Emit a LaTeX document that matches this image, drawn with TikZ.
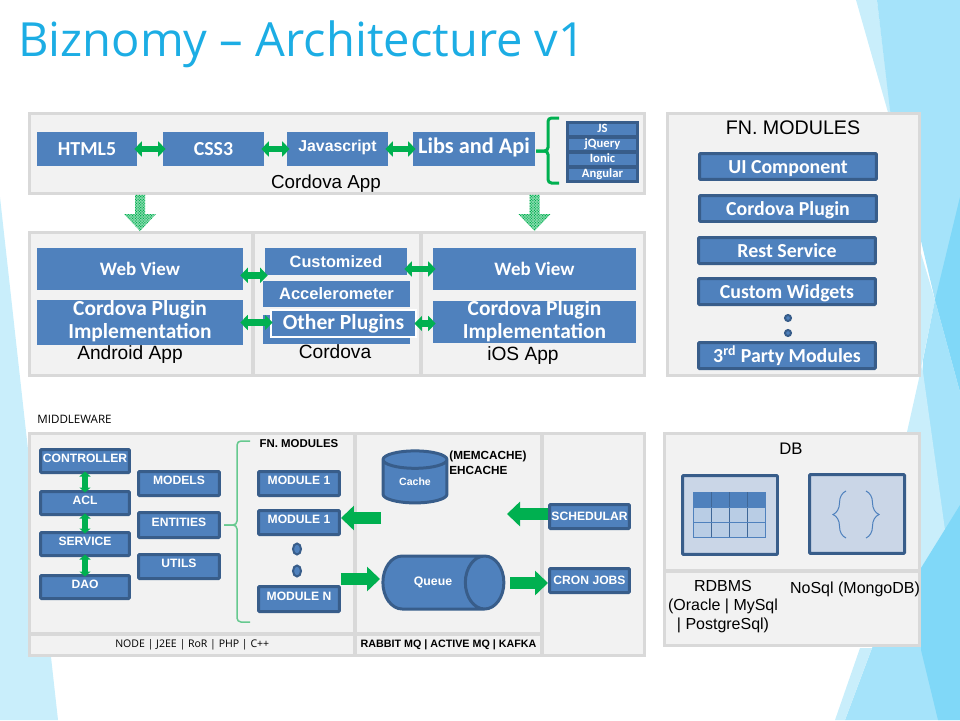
\documentclass[tikz,border=0pt]{standalone}
\usepackage{fontspec}
\usepackage{tikz}
\usetikzlibrary{arrows.meta,calc,patterns.meta,shapes.geometric,decorations.pathreplacing}
\setmainfont{Liberation Sans}
\newfontfamily\calibri{Carlito}
\newfontfamily\openfont{Open Sans}
\newcommand{\fs}[1]{\fontsize{#1}{#1}\selectfont}
\definecolor{bgLight}{HTML}{C9EEFB}
\definecolor{bgMid}{HTML}{A5E3FA}
\definecolor{bgDark}{HTML}{80D8F8}
\definecolor{titleBlue}{HTML}{1CADE4}
\definecolor{cellFill}{HTML}{F2F2F2}
\definecolor{cellLine}{HTML}{D9D9D9}
\definecolor{boxFill}{HTML}{4F81BD}
\definecolor{boxLine}{HTML}{385D8A}
\definecolor{paleBox}{HTML}{CAD6E7}
\definecolor{tableCell}{HTML}{B9CDE5}
\definecolor{arrowGreen}{HTML}{00B050}
\definecolor{paleGreen}{HTML}{66C98F}
\tikzset{
  size/.style 2 args={minimum width=#1*0.2mm, minimum height=#2*0.2mm, inner sep=0pt},
  cell/.style={draw=cellLine, fill=cellFill, line width=0.6mm},
  flatbox/.style={fill=boxFill, text=white, font=\calibri\bfseries\fs{11.3}},
  flatarial/.style={fill=boxFill, text=white, font=\bfseries\fs{9.3}},
  rowbox/.style={flatbox, font=\calibri\bfseries\fs{7.2}, text height=1.5mm, text depth=0.3mm},
  sidebox/.style={draw=boxLine, fill=boxFill, line width=0.6mm, rounded corners=0.2mm, text=white, font=\calibri\bfseries\fs{11.3}, text height=3.2mm, text depth=0.4mm},
  midbox/.style={draw=boxLine, fill=boxFill, line width=0.6mm, rounded corners=0.2mm, text=white, font=\bfseries\fs{6.9}, text depth=1.2mm},
  tank/.style={cylinder, draw=boxLine, fill=boxFill, line width=0.6mm, text=white, inner sep=0pt, font=\bfseries\fs{6}},
  bluedot/.style={ellipse, draw=boxLine, fill=boxFill, line width=0.4mm, inner sep=0pt},
  paleframe/.style={draw=boxLine, fill=paleBox, line width=0.6mm, rounded corners=0.2mm},
  caption/.style={font=\fs{9.1}, align=center, inner sep=0pt},
  dbl/.style={{Triangle[length=1.5mm,width=3mm]}-{Triangle[length=1.5mm,width=3mm]}, draw=arrowGreen, line width=1.3mm, shorten <=-0.6mm, shorten >=-0.6mm},
  dblsmall/.style={{Triangle[length=1mm,width=2.2mm]}-{Triangle[length=1mm,width=2.2mm]}, draw=arrowGreen, line width=1.1mm, shorten <=-0.5mm, shorten >=-0.5mm},
  fatarrow/.style={-{Triangle[length=2.6mm,width=4.8mm]}, draw=arrowGreen, line width=2.4mm},
  downarrow/.style={preaction={fill=arrowGreen!45!white}, pattern={Dots[distance=1.1pt,radius=0.42pt,angle=45]}, pattern color=arrowGreen,
    to path={($(\tikztostart)+(-5,0)$) -- ($(\tikztostart)+(5,0)$) -- ($(\tikztotarget)+(5,-17)$) -- ($(\tikztotarget)+(16,-17)$) -- (\tikztotarget) -- ($(\tikztotarget)+(-16,-17)$) -- ($(\tikztotarget)+(-5,-17)$) -- cycle}},
  greenbrace/.style={draw=arrowGreen, line width=0.6mm, rounded corners=0.7mm},
  thinbrace/.style={draw=paleGreen, line width=0.3mm, rounded corners=0.8mm},
  curly/.style={draw=boxFill, line width=0.2mm, decorate, decoration={brace, amplitude=2.6mm}},
}
\begin{document}
\begin{tikzpicture}[x=0.02cm, y=-0.02cm]
    \useasboundingbox (0,0) rectangle (960,720);

    % background facets
    \fill[bgLight] (0,197) -- (58,720) -- (0,720) -- cycle;
    \fill[bgLight] (856,0) -- (877,0) -- (893,130) -- cycle;
    \fill[bgMid] (877,0) -- (960,0) -- (960,392) -- (935,300) -- (890,110) -- cycle;
    \fill[bgLight] (920,250) -- (935,300) -- (921,368) -- (910,300) -- cycle;
    \fill[bgDark] (960,197) -- (935,300) -- (960,392) -- cycle;
    \fill[bgMid] (923,360) -- (935,300) -- (960,392) -- (960,720) -- (845,720) -- (872,648) -- (921,565) -- cycle;
    \fill[bgLight] (922,365) -- (945,530) -- (921,570) -- (900,560) -- (907,432) -- cycle;
    \fill[bgLight] (860,648) -- (872,648) -- (845,720) -- (835,720) -- cycle;
    \fill[bgDark] (921,568) -- (960,505) -- (960,720) -- (938,720) -- (921,650) -- cycle;

    \node (title) [anchor=west, text=titleBlue, inner sep=0pt, font=\openfont\fs{26.8}] at (18,44) {Biznomy – Architecture v1};

    % cordova app row
    \node (appCell) [cell, size={615}{80}] at (337,153.5) {};
    \node (html) [flatbox, size={100}{34}] at (87,149) {HTML5};
    \node (css) [flatbox, size={101}{34}] at (213.5,149) {CSS3};
    \node (js) [flatarial, size={101}{34}, text depth=1.2mm, font=\bfseries\fs{9}] at (337.5,149) {Javascript};
    \node (libs) [flatbox, size={122}{34}, text depth=1.2mm, font=\calibri\bfseries\fs{12.7}] at (474,149) {Libs and Api};
    \node (libFrame) [fill=boxLine, size={73}{62}] at (602.5,152) {};
    \node (rowJs) [rowbox, size={67}{11}] at (602.5,129.5) {JS};
    \node (rowJq) [rowbox, size={67}{11}] at (602.5,144.5) {jQuery};
    \node (rowIonic) [rowbox, size={67}{11}] at (602.5,159.5) {Ionic};
    \node (rowAngular) [rowbox, size={67}{11}] at (602.5,174.5) {Angular};
    \draw[greenbrace] (559,118) -- (548,118) -- (548,151) -- (536,151);
    \draw[greenbrace] (559,183) -- (548,183) -- (548,151) -- (536,151);
    \node (appText) [caption, font=\fs{10.7}] at (326,184) {Cordova App};

    \draw[dbl] (html.east) -- (html.east -| css.west);
    \draw[dbl] (css.east) -- (css.east -| js.west);
    \draw[dbl] (js.east) -- (js.east -| libs.west);

    % android, cordova, ios
    \node (androidCell) [cell, size={223.5}{143}] at (141.25,304) {};
    \node (cordovaCell) [cell, size={168}{143}] at (337,304) {};
    \node (iosCell) [cell, size={223.5}{143}] at (532.75,304) {};
    \node (webL) [flatbox, size={206}{42}, font=\calibri\bfseries\fs{10.8}] at (140,269) {Web View};
    \node (pluginL) [flatbox, size={206}{43}, align=center, font=\calibri\bfseries\fontsize{12.2}{13}\selectfont, text depth=1.3mm] at (140,322.5) {Cordova Plugin\\Implementation};
    \node (custom) [flatarial, size={142}{27}] at (336,261.5) {Customized};
    \node (accel) [flatarial, size={147}{26}, font=\bfseries\fs{9.4}] at (336.5,294) {Accelerometer};
    \node (accBase) [fill=boxFill, size={147}{29}] at (336.5,329.5) {};
    \node (other) [flatbox, size={146}{27}, draw=white, line width=0.4mm, font=\calibri\bfseries\fs{12.3}] at (343.5,323.5) {Other Plugins};
    \node (webR) [flatbox, size={203}{42}, font=\calibri\bfseries\fs{10.8}] at (534.5,269) {Web View};
    \node (pluginR) [flatbox, size={203}{42}, align=center, font=\calibri\bfseries\fontsize{12.2}{13}\selectfont, text depth=0.9mm] at (534.5,322) {Cordova Plugin\\Implementation};
    \node (androidText) [caption, font=\fs{10.9}] at (130,355) {Android App};
    \node (cordovaText) [caption, font=\fs{10.9}] at (335,352) {Cordova};
    \node (iosText) [caption, font=\fs{10.9}] at (523,356) {iOS App};

    \draw[dbl] (webL.east |- custom.south) -- (custom.south west);
    \draw[dbl] (custom.east |- webR.west) -- (webR.west);
    \draw[dbl] (pluginL.east) -- (pluginL.east -| other.west);
    \draw[dbl] (other.east) -- (other.east -| pluginR.west);

    \path[downarrow] (appCell.south -| webL) to (androidCell.north -| webL);
    \path[downarrow] (appCell.south -| webR) to (iosCell.north -| webR);

    % fn. modules
    \node (fnCell) [cell, size={252}{262}] at (793.5,244.5) {};
    \node (fnText) [caption, font=\fs{11.2}] at (793,128) {FN. MODULES};
    \node (uiBox) [sidebox, size={177}{26}] at (788,166.5) {UI Component};
    \node (pluginBox) [sidebox, size={177}{26}] at (788,208.5) {Cordova Plugin};
    \node (restBox) [sidebox, size={177}{26}] at (787,250.5) {Rest Service};
    \node (widgetBox) [sidebox, size={177}{26}] at (787,291.5) {Custom Widgets};
    \node (fnDotA) [bluedot, size={6}{6}] at (788,318) {};
    \node (fnDotB) [bluedot, size={6}{6}] at (788,333) {};
    \node (thirdBox) [sidebox, size={177}{26}] at (787,355.5) {3\textsuperscript{rd} Party Modules};

    % middleware
    \node (mwText) [anchor=west, inner sep=0pt, font=\openfont\fs{6.6}] at (37,419) {MIDDLEWARE};
    \node (srvCell) [cell, size={325.5}{200.5}] at (192.25,533.75) {};
    \node (mqCell) [cell, size={187}{200.5}] at (448.5,533.75) {};
    \node (jobCell) [cell, size={102.5}{222}] at (593.25,544.5) {};
    \node (srvFoot) [cell, size={325.5}{21.5}, font=\openfont\fs{6}] at (192.25,644.75) {NODE | J2EE | RoR | PHP | C++};
    \node (mqFoot) [cell, size={187}{21.5}, font=\bfseries\fs{6.1}] at (448.5,644.75) {RABBIT MQ | ACTIVE MQ | KAFKA};

    \node (controller) [midbox, size={89}{23}] at (85,461) {CONTROLLER};
    \node (acl) [midbox, size={89}{23}] at (85,503) {ACL};
    \node (service) [midbox, size={89}{23}] at (85,544) {SERVICE};
    \node (dao) [midbox, size={89}{23}] at (85,587) {DAO};
    \node (models) [midbox, size={81}{24}] at (179,483.5) {MODELS};
    \node (entities) [midbox, size={81}{25}] at (179,525) {ENTITIES};
    \node (utils) [midbox, size={81}{24}] at (179,566.5) {UTILS};
    \node (moduleA) [midbox, size={81}{24}] at (299,483.5) {MODULE 1};
    \node (moduleB) [midbox, size={81}{24}] at (299,522.5) {MODULE 1};
    \node (midDotA) [bluedot, size={8}{11}] at (297,549) {};
    \node (midDotB) [bluedot, size={8}{11}] at (297,571) {};
    \node (moduleN) [midbox, size={81}{25}] at (299,599) {MODULE N};
    \node (mwFnText) [inner sep=0pt, font=\bfseries\fs{6.5}] at (299,444) {FN. MODULES};

    \draw[dblsmall] (controller.south) -- (acl.north);
    \draw[dblsmall] (acl.south) -- (service.north);
    \draw[dblsmall] (service.south) -- (dao.north);
    \draw[thinbrace] (250,441) -- (237,441) -- (237,525) -- (224,525);
    \draw[thinbrace] (250,622) -- (237,622) -- (237,525) -- (224,525);

    \node (cache) [tank, shape border rotate=90, shape aspect=0.55, minimum width=64*0.2mm, minimum height=52*0.2mm] at (415,482) {Cache};
    \node (cacheText) [anchor=north west, align=left, inner sep=0pt, font=\bfseries\fs{6.7}] at (449,451) {(MEMCACHE)\\[1.5pt]EHCACHE};
    \node (queue) [tank, shape aspect=3.5, minimum width=53*0.2mm, minimum height=121*0.2mm, font=\bfseries\fs{7}] at (433,582.5) {Queue};
    \node (schedular) [midbox, size={80}{24}, text depth=0pt] at (589.5,516.5) {SCHEDULAR};
    \node (cron) [midbox, size={80}{24}, text depth=0pt] at (589.5,580.5) {CRON JOBS};

    \coordinate (cacheOut) at (381,518);
    \coordinate (schedTip) at (507,514);
    \coordinate (queueIn) at (380,579);
    \coordinate (queueOut) at (510,583);
    \draw[fatarrow] (cacheOut) -- (cacheOut -| moduleB.east);
    \draw[fatarrow] (schedTip -| schedular.west) -- (schedTip);
    \draw[fatarrow] (queueIn -| moduleN.east) -- (queueIn);
    \draw[fatarrow] (queueOut) -- (queueOut -| cron.west);

    % db
    \node (dbCell) [cell, size={255}{137.5}] at (792,502.25) {};
    \node (dbFoot) [cell, size={255}{74.5}] at (792,608.25) {};
    \node (dbText) [caption, font=\fs{9.5}] at (791,449) {DB};
    \node (rdbBox) [paleframe, size={95}{79}] at (730,515) {};
    \node (nosqlBox) [paleframe, size={95}{79}] at (857,514) {};
    \fill[tableCell] (693,507) rectangle (765,537);
    \fill[boxFill] (693,492) rectangle (765,507);
    \draw[boxFill, line width=0.2mm] (693,492) rectangle (765,537);
    \foreach \colx in {711,729,747}
        \draw[boxFill!80!black, line width=0.2mm] (\colx,492) -- (\colx,537);
    \foreach \rowy in {507,522}
        \draw[boxFill, line width=0.2mm] (693,\rowy) -- (765,\rowy);
    \draw[curly] (846,538) -- (846,491);
    \draw[curly] (866,491) -- (866,538);
    \node (rdbText) [caption, font=\fontsize{9.1}{10.9}\selectfont] at (723,606.5) {RDBMS\\(Oracle | MySql\\| PostgreSql)};
    \node (nosqlText) [caption] at (855,589) {NoSql (MongoDB)};
\end{tikzpicture}
\end{document}
